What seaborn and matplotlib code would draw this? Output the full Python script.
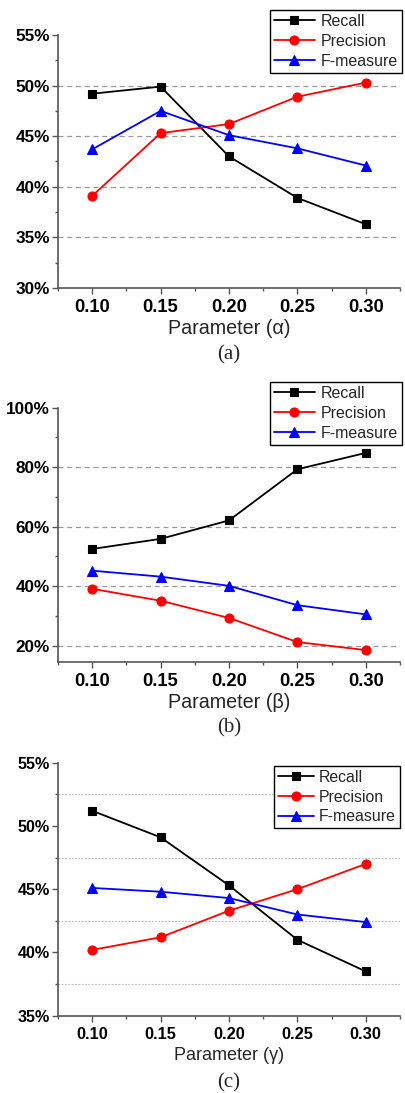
import numpy as np
import pandas as pd
import matplotlib
matplotlib.use("Agg")
import matplotlib.pyplot as plt
from matplotlib.ticker import MultipleLocator, FuncFormatter
import seaborn as sns

sns.set_theme(style="ticks")
plt.rcParams['font.family'] = ['Liberation Sans', 'DejaVu Sans']

# ---- data ----
params = [0.10, 0.15, 0.20, 0.25, 0.30]
series_names = ["Recall", "Precision", "F-measure"]

alpha_recall = [49.2, 49.9, 43.0, 38.9, 36.3]
alpha_precision = [39.1, 45.3, 46.2, 48.9, 50.3]
alpha_f = [43.7, 47.5, 45.1, 43.8, 42.1]

beta_recall = [52.5, 55.9, 62.1, 79.3, 84.8]
beta_precision = [39.1, 35.1, 29.3, 21.2, 18.5]
beta_f = [45.2, 43.2, 40.1, 33.6, 30.5]

gamma_recall = [51.2, 49.1, 45.3, 41.0, 38.5]
gamma_precision = [40.2, 41.2, 43.3, 45.0, 47.0]
gamma_f = [45.1, 44.8, 44.3, 43.0, 42.4]

xlabels = ["Parameter (α)", "Parameter (β)", "Parameter (γ)"]
captions = ["(a)", "(b)", "(c)"]

colors = {"Recall": "#000000", "Precision": "#ff0000", "F-measure": "#0000ff"}
markers = {"Recall": "s", "Precision": "o", "F-measure": "^"}
msizes = {"Recall": 6, "Precision": 6.5, "F-measure": 7}

fig = plt.figure(figsize=(4.05, 10.93), dpi=100)
W, H = 405, 1093

def px_axes(l, t, r, b):
    return fig.add_axes([l / W, 1 - b / H, (r - l) / W, (b - t) / H])

panels = [
    dict(box=(58, 35, 400, 288), data=(alpha_recall, alpha_precision, alpha_f),
         ylim=(30, 55), major=5, minor=2.5, grid="major", hl=2.6,
         leg=(402, 10), xl_y=328, cap_y=355, yfs=12.3, xtfs=13.2, lfs=11.5, xfs=14.2),
    dict(box=(58, 407.7, 400, 661.7), data=(beta_recall, beta_precision, beta_f),
         ylim=(14.6, 100), major=20, minor=10, grid="major", hl=2.6,
         leg=(402, 382), xl_y=702, cap_y=728, yfs=12.3, xtfs=13.2, lfs=11.5, xfs=14.2),
    dict(box=(58, 762.7, 400, 1015.7), data=(gamma_recall, gamma_precision, gamma_f),
         ylim=(35, 55), major=5, minor=2.5, grid="minor", hl=2.25,
         leg=(400, 766), xl_y=1055, cap_y=1083, yfs=11.6, xtfs=11.8, lfs=11.4, xfs=13),
]

spine_c = "#555555"
for i, p in enumerate(panels):
    ax = px_axes(*p["box"])
    rows = []
    for name, vals in zip(series_names, p["data"]):
        for x, v in zip(params, vals):
            rows.append(dict(param=x, value=v, series=name))
    df = pd.DataFrame(rows)
    for name in series_names:
        sub = df[df.series == name]
        sns.lineplot(data=sub, x="param", y="value", ax=ax, color=colors[name],
                     marker=markers[name], markersize=msizes[name],
                     markeredgecolor=colors[name], markeredgewidth=0.8,
                     linewidth=1.3, label=name, zorder=3)
    ax.set_xlim(0.075, 0.325)
    ax.set_ylim(*p["ylim"])
    ax.xaxis.set_major_locator(MultipleLocator(0.05))
    ax.xaxis.set_minor_locator(MultipleLocator(0.025))
    ax.xaxis.set_major_formatter(FuncFormatter(lambda v, pos: f"{v:.2f}"))
    lo, hi = p["ylim"]
    ax.set_yticks(np.arange(np.ceil(lo / p["major"]) * p["major"], hi + 0.01, p["major"]))
    ax.yaxis.set_minor_locator(MultipleLocator(p["minor"]))
    ax.yaxis.set_major_formatter(FuncFormatter(lambda v, pos: f"{v:.0f}%"))
    for s in ["top", "right"]:
        ax.spines[s].set_visible(False)
    for s in ["left", "bottom"]:
        ax.spines[s].set_color(spine_c)
        ax.spines[s].set_linewidth(1.2)
    ax.tick_params(which="major", direction="out", length=4, width=1.0, color=spine_c, pad=2)
    ax.tick_params(which="minor", direction="out", length=2.5, width=1.0, color=spine_c)
    ax.tick_params(axis="x", which="major", pad=4)
    for lab in ax.get_yticklabels():
        lab.set_fontweight("bold")
        lab.set_fontsize(p["yfs"])
        lab.set_color("black")
    for lab in ax.get_xticklabels():
        lab.set_fontweight("bold")
        lab.set_fontsize(p["xtfs"])
        lab.set_color("black")
    if p["grid"] == "major":
        ax.grid(which="major", axis="y", linestyle=(0, (4, 3)), color="#999999", linewidth=0.9)
        for t in ax.yaxis.get_major_ticks():
            if abs(t.get_loc() - hi) < 1e-6 or abs(t.get_loc() - lo) < 1e-6:
                t.gridline.set_visible(False)
    else:
        ax.grid(which="minor", axis="y", linestyle=(0, (1.5, 1.5)), color="#bbbbbb", linewidth=0.8)
        ax.grid(which="major", visible=False)
    ax.set_xlabel("")
    ax.set_ylabel("")
    fig.text(229 / W, 1 - p["xl_y"] / H, xlabels[i], ha="center", va="center",
             fontsize=p["xfs"])
    fig.text(229 / W, 1 - p["cap_y"] / H, captions[i], ha="center", va="center",
             fontsize=15, family="Liberation Serif")
    lx, ly = p["leg"]
    leg = ax.legend(loc="upper right", bbox_to_anchor=(lx / W, 1 - ly / H),
                    bbox_transform=fig.transFigure, borderaxespad=0,
                    fontsize=p["lfs"], frameon=True, fancybox=False, framealpha=1,
                    edgecolor="black", handlelength=p["hl"], handletextpad=0.35,
                    labelspacing=0.3, borderpad=0.25)
    leg.get_frame().set_linewidth(1.0)

fig.savefig("out.png", dpi=100)
